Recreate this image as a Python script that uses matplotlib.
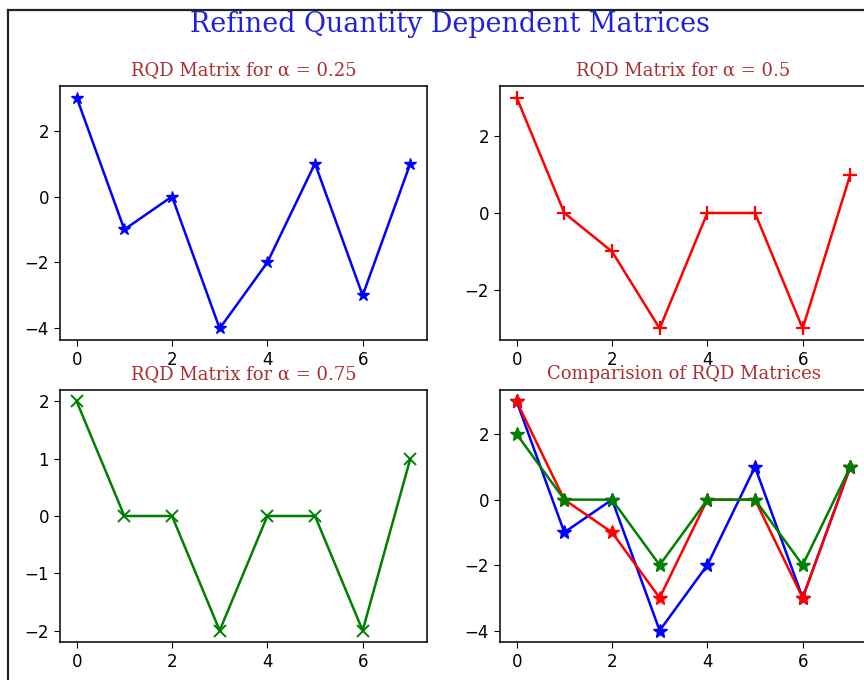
"""Recreate the 'Refined Quantity Dependent Matrices' 2x2 line chart."""

import matplotlib

matplotlib.use("Agg")

import matplotlib.pyplot as plt
from matplotlib.lines import Line2D

# data
x_index = [0, 1, 2, 3, 4, 5, 6, 7]
rqd_025 = [3, -1, 0, -4, -2, 1, -3, 1]
rqd_050 = [3, 0, -1, -3, 0, 0, -3, 1]
rqd_075 = [2, 0, 0, -2, 0, 0, -2, 1]

title_main = "Refined Quantity Dependent Matrices"
titles = [
    "RQD Matrix for \u03b1 = 0.25",
    "RQD Matrix for \u03b1 = 0.5",
    "RQD Matrix for \u03b1 = 0.75",
    "Comparision of RQD Matrices",
]

W, H = 864, 680
plt.rcParams["font.size"] = 12
plt.rcParams["xtick.major.size"] = 4.5
plt.rcParams["ytick.major.size"] = 4.5
plt.rcParams["axes.linewidth"] = 1.1
plt.rcParams["lines.linewidth"] = 1.8

fig = plt.figure(figsize=(W / 100, H / 100), dpi=100)


def px_axes(left, top, right, bottom):
    """Add axes from pixel box (origin at top-left)."""
    return fig.add_axes([left / W, 1 - bottom / H, (right - left) / W, (bottom - top) / H])


ax1 = px_axes(60, 86, 427, 340)
ax2 = px_axes(500, 86, 867, 340)
ax3 = px_axes(60, 390, 427, 642)
ax4 = px_axes(500, 390, 867, 642)

ax1.plot(x_index, rqd_025, color="blue", marker="*", markersize=9)
ax2.plot(x_index, rqd_050, color="red", marker="+", markersize=10, markeredgewidth=1.6)
ax3.plot(x_index, rqd_075, color="green", marker="x", markersize=9, markeredgewidth=1.4)

ax4.plot(x_index, rqd_025, color="blue", marker="*", markersize=10)
ax4.plot(x_index, rqd_050, color="red", marker="*", markersize=10)
ax4.plot(x_index, rqd_075, color="green", marker="*", markersize=10)

for axis, text in zip([ax1, ax2, ax3, ax4], titles):
    axis.set_title(text, fontsize=13, family="DejaVu Serif", color="#a83030", pad=8)
    axis.set_xticks([0, 2, 4, 6])
    axis.tick_params(labelsize=12)

ax2.set_yticks([-2, 0, 2])
ax3.set_yticks([-2, -1, 0, 1, 2])

fig.text(450 / W, 1 - 25 / H, title_main, ha="center", va="center",
         fontsize=19.4, family="DejaVu Serif", color="#2020e0")

# screenshot border on the left and top
fig.add_artist(Line2D([8 / W, 8 / W], [0, 1 - 10 / H], transform=fig.transFigure,
                      color="#222222", linewidth=1.6))
fig.add_artist(Line2D([8 / W, 1], [1 - 10 / H, 1 - 10 / H], transform=fig.transFigure,
                      color="#222222", linewidth=1.6))

fig.savefig("out.png", dpi=100)
